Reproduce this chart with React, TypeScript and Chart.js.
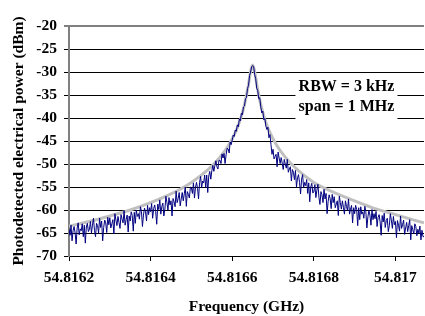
import { useEffect, useRef } from 'react';
import { Chart, registerables } from 'chart.js';

Chart.register(...registerables);

// Spectrum analyser sweep (uniform frequency grid, 2.5 kHz per point)
const sweepStartGHz = 54.8162;
const sweepStepGHz = 0.0000025;
const measuredDbm = [
  // 54.8162 .. 54.8162475
  -64.1, -65.5, -63.3, -66.7, -64.5, -63.6, -65.0, -67.4, -63.9, -62.8,
  -65.4, -64.1, -64.5, -63.0, -65.8, -63.3, -67.2, -63.7, -62.9, -64.7,
  -64.2, -62.5, -65.0, -63.3, -61.8, -64.5, -65.8, -62.9, -63.4, -65.0,
  -61.8, -63.8, -62.4, -66.7, -63.8, -62.2, -62.8, -64.9, -61.6, -63.2,
  -61.7, -63.9, -63.0, -62.1, -65.2, -60.8, -62.2, -63.4, -61.4, -62.7,
  -64.0, -61.0, -62.0, -62.8, -60.1, -63.3, -62.1, -61.1, -64.8, -61.3,
  -62.4, -60.4, -61.2, -64.6, -60.5, -62.9, -60.0, -61.4, -60.8, -62.0,
  -59.3, -60.3, -63.6, -61.1, -59.6, -60.4, -62.4, -59.0, -61.0, -59.5,
  -60.4, -58.6, -61.8, -59.7, -58.9, -60.4, -63.1, -58.7, -59.9, -57.8,
  -60.9, -59.2, -58.5, -61.3, -59.8, -57.0, -58.4, -60.0, -57.3, -58.9,
  -58.0, -61.3, -57.5, -58.2, -59.3, -55.9, -58.4, -57.5, -56.2, -59.1,
  -57.6, -56.2, -58.0, -56.5, -55.0, -59.2, -56.0, -56.6, -57.4, -55.0,
  -55.2, -56.4, -54.1, -57.4, -55.1, -54.0, -55.3, -57.6, -54.0, -52.7,
  -55.2, -53.7, -54.1, -52.4, -55.1, -52.4, -56.2, -52.6, -51.6, -53.3,
  -51.5, -50.3, -51.6, -50.3, -49.3, -50.6, -51.1, -49.2, -49.2, -49.9,
  -47.8, -48.7, -47.7, -49.9, -48.0, -46.6, -46.7, -47.6, -45.2, -45.8,
  -44.8, -43.7, -44.0, -42.6, -42.9, -41.5, -41.9, -40.2, -40.6, -39.0,
  -39.3, -37.6, -37.4, -35.8, -35.5, -33.6, -32.9, -30.8, -30.0, -28.9,
  // peak
  -28.6,
  -28.8, -30.6, -31.4, -33.5, -34.0, -35.8, -35.6, -37.6, -38.9, -38.5,
  -40.4, -40.1, -41.8, -42.5, -42.0, -44.3, -43.6, -45.8, -47.9,
  -46.8, -48.9, -48.4, -47.9, -50.6, -47.4, -48.7, -49.9, -48.6, -49.8,
  -51.2, -49.0, -50.0, -50.9, -49.0, -51.8, -51.1, -50.6, -53.7, -51.2,
  -51.8, -53.4, -51.4, -55.0, -53.0, -52.3, -54.0, -56.5, -53.3, -52.3,
  -55.2, -54.0, -54.7, -53.4, -56.4, -54.1, -58.2, -54.9, -54.2, -56.3,
  -56.1, -54.5, -57.3, -55.7, -54.4, -57.2, -58.8, -56.0, -56.7, -58.4,
  -55.5, -57.6, -56.4, -60.8, -58.2, -56.7, -57.5, -59.7, -56.6, -58.4,
  -57.1, -59.5, -58.7, -58.0, -61.2, -57.0, -58.4, -59.8, -58.0, -59.4,
  -60.9, -58.0, -59.2, -60.1, -57.6, -60.9, -59.8, -59.0, -62.8, -59.5,
  -60.8, -59.0, -59.9, -63.4, -59.5, -62.1, -59.3, -60.9, -60.4, -61.8,
  -59.2, -60.4, -63.9, -61.5, -60.1, -61.1, -63.3, -59.9, -62.1, -60.8,
  -61.9, -60.3, -63.6, -61.6, -61.0, -62.6, -65.5, -61.2, -62.6, -60.7,
  -63.8, -62.3, -61.8, -64.7, -63.4, -60.8, -62.2, -64.0, -61.4, -63.2,
  -62.5, -66.0, -62.3, -63.3, -64.6, -61.3, -64.0, -63.2, -62.2, -65.3,
  -63.9, -62.7, -64.7, -63.4, -62.1, -66.5, -63.4, -64.3, -65.2, -63.0,
  -63.6, -65.6, -64.2, -65.0, -63.5, -66.5, -64.4, -65.8, -65.8,
];

// Lorentzian fit curve (grey)
const fitFreqGHz = [
  54.8162, 54.81625, 54.8163, 54.81635, 54.8164, 54.81645, 54.8165, 54.81654,
  54.81657, 54.81659, 54.81661, 54.81662, 54.81663, 54.81664, 54.816645,
  54.81665, 54.816655, 54.81666, 54.81667, 54.81668, 54.81669, 54.81671,
  54.81673, 54.81676, 54.8168, 54.81685, 54.8169, 54.81695, 54.817, 54.81705,
  54.81707,
];
const fitDbm = [
  -63.5, -62.5, -61.3, -60.0, -58.4, -56.5, -54.0, -51.3,
  -48.5, -46.1, -42.7, -40.3, -37.1, -32.6, -29.9,
  -28.5, -29.9, -32.6, -37.1, -40.3, -42.7, -46.1,
  -48.5, -51.3, -54.0, -56.2, -58.0, -59.7, -61.0, -62.3,
  -62.8,
];

const xTickValues = [54.8162, 54.8164, 54.8166, 54.8168, 54.817];
const xMin = 54.8162;
const xMax = 54.81707;
const yMin = -70;
const yMax = -20;
const yStep = 5;

const xTitle = 'Frequency (GHz)';
const yTitle = 'Photodetected electrical power (dBm)';
const noteLines = ['RBW = 3 kHz', 'span = 1 MHz'];
const noteBaselinesDbm = [-34.07, -38.5];
const noteBoxFreq = [54.816755, 54.817005];
const noteBoxDbm = [-30.8, -41.5];

const FONT = '"Liberation Serif", "Times New Roman", serif';

const notePlugin = {
  id: 'noteBox',
  afterDraw(chart: any) {
    const { ctx, scales } = chart;
    const x = scales.x;
    const y = scales.y;
    const x0 = x.getPixelForValue(noteBoxFreq[0]);
    const x1 = x.getPixelForValue(noteBoxFreq[1]);
    const y0 = y.getPixelForValue(noteBoxDbm[0]);
    const y1 = y.getPixelForValue(noteBoxDbm[1]);
    ctx.save();
    ctx.fillStyle = '#ffffff';
    ctx.fillRect(x0, y0, x1 - x0, y1 - y0);
    ctx.fillStyle = '#000000';
    ctx.font = `bold 16px ${FONT}`;
    ctx.textAlign = 'center';
    ctx.textBaseline = 'alphabetic';
    const cx = (x0 + x1) / 2;
    noteLines.forEach((t, i) => {
      ctx.fillText(t, cx, y.getPixelForValue(noteBaselinesDbm[i]));
    });
    ctx.restore();
  },
};

export default function App() {
  const ref = useRef<HTMLCanvasElement | null>(null);

  useEffect(() => {
    if (!ref.current) return;
    const measured = measuredDbm.map((v, i) => ({ x: sweepStartGHz + i * sweepStepGHz, y: v }));
    const fit = fitFreqGHz.map((f, i) => ({ x: f, y: fitDbm[i] }));
    const chart = new Chart(ref.current, {
      type: 'line',
      data: {
        datasets: [
          {
            data: measured,
            borderColor: '#000080',
            borderWidth: 1,
            pointRadius: 0,
            tension: 0,
          },
          {
            data: fit,
            borderColor: '#c0c0c0',
            borderWidth: 3,
            pointRadius: 0,
            cubicInterpolationMode: 'monotone',
          },
        ],
      },
      options: {
        animation: false,
        responsive: false,
        events: [],
        layout: { padding: { top: 26, right: 1, left: 0, bottom: 0 } },
        plugins: { legend: { display: false }, tooltip: { enabled: false } },
        scales: {
          x: {
            type: 'linear',
            min: xMin,
            max: xMax,
            afterBuildTicks: (scale: any) => {
              scale.ticks = xTickValues.map((v) => ({ value: v }));
            },
            afterFit: (scale: any) => {
              scale.height = 60;
            },
            ticks: {
              color: '#000',
              font: { family: FONT, size: 15.5, weight: 'bold' },
              padding: 8,
              maxRotation: 0,
              autoSkip: false,
              callback: (v: any) => String(Number(Number(v).toFixed(4))),
            },
            grid: {
              drawOnChartArea: false,
              drawTicks: true,
              tickLength: 5,
              color: '#000',
            },
            border: { color: '#000', width: 1 },
            title: {
              display: true,
              text: xTitle,
              color: '#000',
              font: { family: FONT, size: 15.5, weight: 'bold' },
              padding: { top: 0, bottom: 0 },
            },
          },
          y: {
            type: 'linear',
            min: yMin,
            max: yMax,
            afterFit: (scale: any) => {
              scale.width = 69;
            },
            ticks: {
              stepSize: yStep,
              color: '#000',
              font: { family: FONT, size: 15.5, weight: 'bold' },
              padding: 7,
            },
            grid: {
              color: (c: any) => (c.tick && c.tick.value === yMax ? '#808080' : '#000'),
              lineWidth: (c: any) => (c.tick && c.tick.value === yMax ? 2 : 1),
              drawTicks: true,
              tickLength: 5,
            },
            border: { color: '#808080', width: 2 },
            title: {
              display: true,
              text: yTitle,
              color: '#000',
              font: { family: FONT, size: 15.5, weight: 'bold' },
              padding: { top: 10, bottom: 0 },
            },
          },
        },
      },
      plugins: [notePlugin],
    } as any);
    return () => chart.destroy();
  }, []);

  return (
    <div style={{ position: 'absolute', left: 0, top: 0, width: 425, height: 316, background: '#fff' }}>
      <canvas ref={ref} width={425} height={316} style={{ display: 'block' }} />
    </div>
  );
}
